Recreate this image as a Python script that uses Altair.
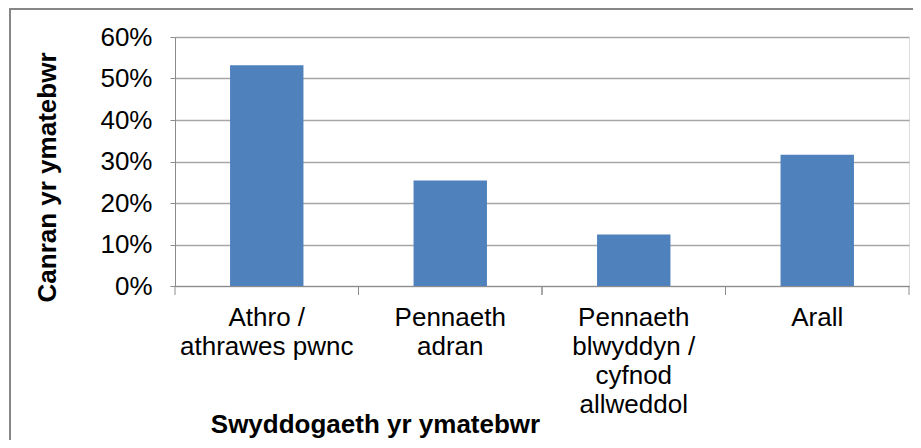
import altair as alt
import pandas as pd

# Data
categories = [
    "Athro /|athrawes pwnc",
    "Pennaeth|adran",
    "Pennaeth|blwyddyn /|cyfnod|allweddol",
    "Arall",
]
percentages = [53.2, 25.4, 12.4, 31.6]
y_ticks = [0, 10, 20, 30, 40, 50, 60]

df = pd.DataFrame({"cat": categories, "pct": percentages})

FONT = "Liberation Sans"
W, H = 734, 249

x_scale = alt.Scale(domain=categories, paddingInner=0, paddingOuter=0)

x_axis = alt.Axis(
    labelExpr="split(datum.value, '|')",
    labelAngle=0,
    labelFont=FONT,
    labelFontSize=26,
    labelColor="#000000",
    labelLineHeight=29,
    labelPadding=9,
    tickSize=9,
    tickColor="transparent",
    domainColor="#8C8C8C",
    domainWidth=1,
    titleFont=FONT,
    titleFontSize=26,
    titleFontWeight="bold",
    titleColor="#000000",
    titleAlign="center",
    titleBaseline="alphabetic",
    titleX=200,
    titleY=146,
    grid=False,
)

bars = alt.Chart(df).mark_bar(
    color="#4F81BD", width=alt.RelativeBandSize(0.4)
).encode(
    x=alt.X("cat:N", sort=categories, scale=x_scale,
            title="Swyddogaeth yr ymatebwr", axis=x_axis),
    y=alt.Y(
        "pct:Q",
        scale=alt.Scale(domain=[0, 60], nice=False),
        title="Canran yr ymatebwr",
        axis=alt.Axis(
            values=y_ticks,
            labelExpr="datum.value + '%'",
            labelFont=FONT,
            labelFontSize=26,
            labelColor="#000000",
            labelPadding=18,
            tickSize=5,
            tickColor="#8C8C8C",
            domainColor="#8C8C8C",
            gridColor="#A6A6A6",
            gridWidth=1.3,
            titleFont=FONT,
            titleFontSize=26,
            titleFontWeight="bold",
            titleColor="#000000",
            titleAngle=270,
            titleAlign="center",
            titleBaseline="alphabetic",
            titleX=-120,
            titleY=140,
        ),
    ),
)

ticks_right = alt.Chart(df).mark_rule(color="#8C8C8C", strokeWidth=1).encode(
    x=alt.X("cat:N", sort=categories, scale=x_scale, bandPosition=1,
            title="Swyddogaeth yr ymatebwr", axis=x_axis),
    y=alt.value(H),
    y2=alt.value(H + 9),
)
ticks_left = alt.Chart(df).mark_rule(color="#8C8C8C", strokeWidth=1).encode(
    x=alt.X("cat:N", sort=categories, scale=x_scale, bandPosition=0,
            title="Swyddogaeth yr ymatebwr", axis=x_axis),
    y=alt.value(H),
    y2=alt.value(H + 9),
)

border = alt.Chart(pd.DataFrame({"a": [0]})).mark_rect(
    fill="transparent", stroke="#868686", strokeWidth=2
).encode(
    x=alt.value(-165),
    x2=alt.value(W + 60),
    y=alt.value(-28),
    y2=alt.value(H + 200),
)

chart = alt.layer(border, bars, ticks_left, ticks_right).properties(
    width=W,
    height=H,
    autosize=alt.AutoSizeParams(type="none"),
    padding={"left": 167, "top": 29, "right": 4, "bottom": 154},
).configure_view(stroke=None).configure(background="white")

chart.save("out.html", embed_options={"renderer": "svg", "actions": False})
